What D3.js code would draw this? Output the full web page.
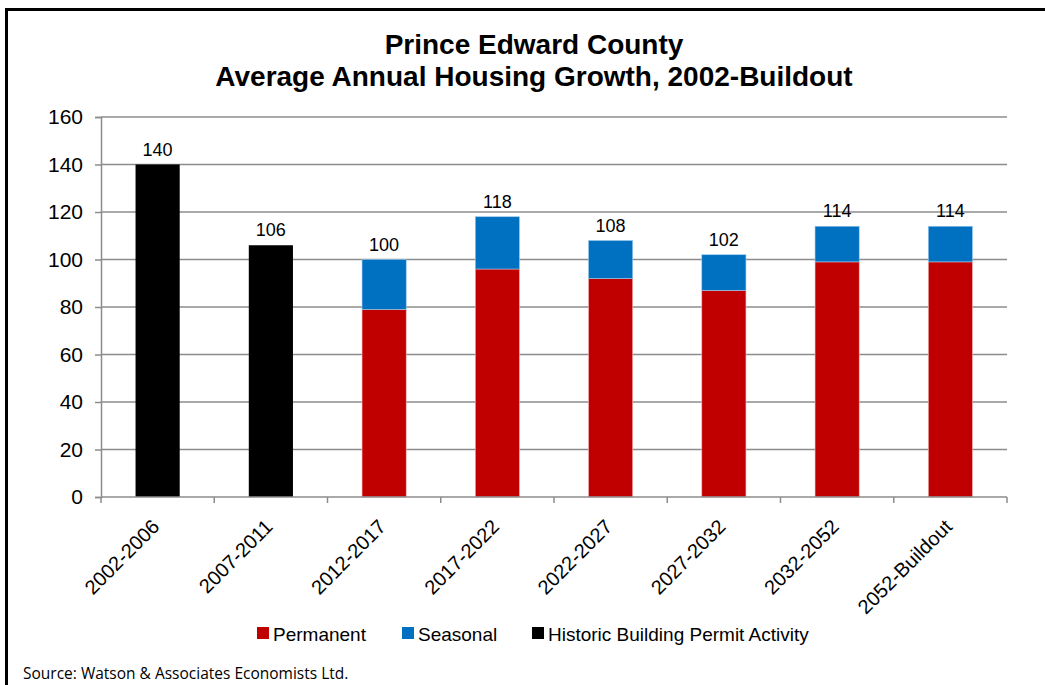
<!DOCTYPE html>
<html><head><meta charset="utf-8">
<script src="https://cdn.jsdelivr.net/npm/d3@7"></script>
<style>body{margin:0;background:#fff}svg{display:block}</style>
</head><body>
<svg id="c" width="1045" height="685"></svg>
<script>
const categories = ["2002-2006","2007-2011","2012-2017","2017-2022","2022-2027","2027-2032","2032-2052","2052-Buildout"];
const historic   = [140,106,0,0,0,0,0,0];
const permanent  = [0,0,79,96,92,87,99,99];
const seasonal   = [0,0,21,22,16,15,15,15];
const totals     = [140,106,100,118,108,102,114,114];
const yTicks     = [0,20,40,60,80,100,120,140,160];
const titleLines = ["Prince Edward County","Average Annual Housing Growth, 2002-Buildout"];
const legendItems = [
  {name:"Permanent", color:"#C00000"},
  {name:"Seasonal", color:"#0070C0"},
  {name:"Historic Building Permit Activity", color:"#000000"}
];
const source = "Source: Watson & Associates Economists Ltd.";

(function(){
const svg = d3.select("#c");
const F = "Liberation Sans, Arial, sans-serif";
const pL=101, pR=1007, pT=117, pB=497;

// frame
svg.append("rect").attr("x",6.5).attr("y",9.5).attr("width",1100).attr("height",800)
  .attr("fill","none").attr("stroke","#000").attr("stroke-width",3);

const x = d3.scaleBand().domain(categories).range([pL,pR]).paddingInner(0.61).paddingOuter(0.305);
const y = d3.scaleLinear().domain([0,160]).range([pB,pT]);

// gridlines
svg.append("g").selectAll("line").data(yTicks.filter(d=>d>0)).join("line")
  .attr("x1",pL).attr("x2",pR).attr("y1",d=>y(d)).attr("y2",d=>y(d))
  .attr("stroke","#8c8c8c").attr("stroke-width",1.5);

// y axis
const ya = svg.append("g").attr("transform",`translate(${pL},0)`)
  .call(d3.axisLeft(y).tickValues(yTicks).tickSize(6).tickPadding(12).tickFormat(d3.format("d")));
ya.select(".domain").attr("stroke","#8c8c8c").attr("stroke-width",1.5);
ya.selectAll(".tick line").attr("stroke","#8c8c8c").attr("stroke-width",1.5);
ya.selectAll("text").attr("font-family",F).attr("font-size",21).attr("fill","#000");

// bars
const stack = categories.map((c,i)=>({c, h:historic[i], p:permanent[i], s:seasonal[i]}));
const g = svg.append("g");
g.selectAll("rect.h").data(stack.filter(d=>d.h>0)).join("rect")
  .attr("x",d=>x(d.c)).attr("width",x.bandwidth()).attr("y",d=>y(d.h)).attr("height",d=>y(0)-y(d.h)).attr("fill","#000");
g.selectAll("rect.p").data(stack.filter(d=>d.p>0)).join("rect")
  .attr("x",d=>x(d.c)).attr("width",x.bandwidth()).attr("y",d=>y(d.p)).attr("height",d=>y(0)-y(d.p))
  .attr("fill","#C00000").attr("stroke","#f2b8b8").attr("stroke-width",0.6);
g.selectAll("rect.s").data(stack.filter(d=>d.s>0)).join("rect")
  .attr("x",d=>x(d.c)).attr("width",x.bandwidth()).attr("y",d=>y(d.p+d.s)).attr("height",d=>y(d.p)-y(d.p+d.s))
  .attr("fill","#0070C0").attr("stroke","#9cc8ec").attr("stroke-width",0.6);

// x axis
const xa = svg.append("g").attr("transform",`translate(0,${pB})`);
xa.append("line").attr("x1",pL).attr("x2",pR).attr("stroke","#8c8c8c").attr("stroke-width",1.5);
const bounds = d3.range(categories.length+1).map(i=>pL + i*x.step());
xa.selectAll("line.t").data(bounds).join("line").attr("class","t")
  .attr("x1",d=>d).attr("x2",d=>d).attr("y1",0).attr("y2",6).attr("stroke","#8c8c8c").attr("stroke-width",1.5);
xa.selectAll("text").data(categories).join("text")
  .attr("transform",d=>`translate(${x(d)+x.bandwidth()/2+3},31) rotate(-45)`)
  .attr("text-anchor","end")
  .attr("font-family",F).attr("font-size",20).text(d=>d);

// data labels
svg.append("g").selectAll("text").data(categories).join("text")
  .attr("x",d=>x(d)+x.bandwidth()/2).attr("y",(d,i)=>y(totals[i])-9)
  .attr("text-anchor","middle").attr("font-family",F).attr("font-size",18).text((d,i)=>totals[i]);

// title
svg.append("g").selectAll("text").data(titleLines).join("text")
  .attr("x",534).attr("y",(d,i)=>54+i*32).attr("text-anchor","middle")
  .attr("font-family",F).attr("font-weight","bold").attr("font-size",28).text(d=>d);

// legend
const lx=[257,402,532];
const lg = svg.append("g").selectAll("g").data(legendItems).join("g")
  .attr("transform",(d,i)=>`translate(${lx[i]},627)`);
lg.append("rect").attr("width",12).attr("height",12).attr("fill",d=>d.color);
lg.append("text").attr("x",16).attr("y",13.5).attr("font-family",F).attr("font-size",19).text(d=>d.name);

// source
svg.append("text").attr("x",23).attr("y",679).attr("font-family","Open Sans, sans-serif").attr("font-size",15.5)
  .text(source);
})();
</script>
</body></html>
